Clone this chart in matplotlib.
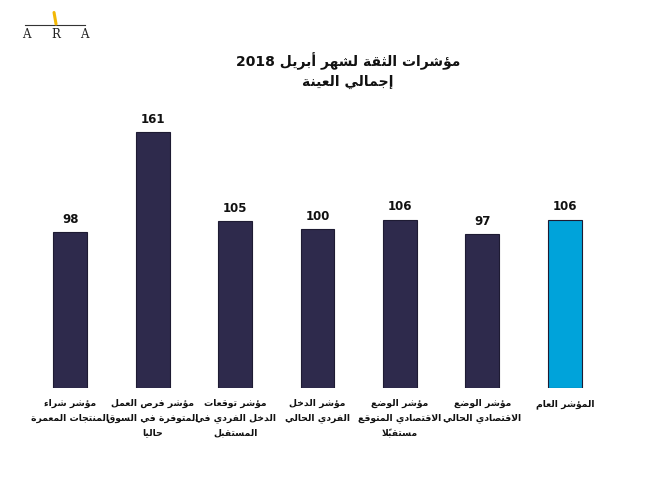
import matplotlib
matplotlib.use("Agg")
import matplotlib.pyplot as plt
from matplotlib.lines import Line2D

# chart data (logical order, right-to-left reading)
LABELS = [
    "مؤشر شراء\nالمنتجات المعمرة",
    "مؤشر فرص العمل\nالمتوفرة في السوق\nحاليا",
    "مؤشر توقعات\nالدخل الفردي في\nالمستقبل",
    "مؤشر الدخل\nالفردي الحالي",
    "مؤشر الوضع\nالاقتصادي المتوقع\nمستقبلاً",
    "مؤشر الوضع\nالاقتصادي الحالي",
    "المؤشر العام",
]
VALUES = [98, 161, 105, 100, 106, 97, 106]
TITLE = "مؤشرات الثقة لشهر أبريل 2018\nإجمالي العينة"

DARK = "#2e2a4c"
BLUE = "#00a3da"
COLORS = [DARK] * 6 + [BLUE]

# --- tiny arabic shaper (matplotlib has no complex text layout) ---
_counts = [1, 2, 2, 2, 2, 4, 2, 4, 2, 4, 4, 4, 4, 4, 2, 2, 2, 2, 4, 4, 4, 4, 4, 4, 4, 4,
           4, 4, 4, 4, 4, 4, 4, 2, 2, 4]
_letters = [chr(c) for c in range(0x621, 0x63B)] + [chr(c) for c in range(0x641, 0x64B)]
FORMS = {}
_b = 0xFE80
for ch, n in zip(_letters, _counts):
    FORMS[ch] = (_b, n)
    _b += n
LAMALEF = {"آ": 0xFEF5, "أ": 0xFEF7, "إ": 0xFEF9, "ا": 0xFEFB}


def is_mark(c):
    return 0x64B <= ord(c) <= 0x65F or c == "\u0670"


def shape_line(s):
    # split into clusters [base, marks]
    cl = []
    for c in s:
        if is_mark(c) and cl:
            cl[-1][1] += c
        else:
            cl.append([c, ""])
    # lam-alef ligature
    items = []
    i = 0
    while i < len(cl):
        c, m = cl[i]
        if c == "ل" and i + 1 < len(cl) and cl[i + 1][0] in LAMALEF:
            items.append(["LA", cl[i + 1][0], m + cl[i + 1][1]])
            i += 2
        else:
            items.append(["CH", c, m])
            i += 1

    def nforms(it):
        if it[0] == "LA":
            return 2
        return FORMS[it[1]][1] if it[1] in FORMS else 0

    out = []
    for k, it in enumerate(items):
        n = nforms(it)
        if n == 0:
            out.append(it[1] + it[2])
            continue
        prev_ok = k > 0 and nforms(items[k - 1]) == 4
        next_ok = n == 4 and k + 1 < len(items) and nforms(items[k + 1]) >= 2
        if it[0] == "LA":
            g = chr(LAMALEF[it[1]] + (1 if prev_ok else 0))
        else:
            base = FORMS[it[1]][0]
            if n == 1:
                g = chr(base)
            elif prev_ok and next_ok:
                g = chr(base + 3)
            elif prev_ok:
                g = chr(base + 1)
            elif next_ok:
                g = chr(base + 2)
            else:
                g = chr(base)
        out.append(g + it[2])
    # visual order: reverse, keep digit runs left-to-right
    out = out[::-1]
    res = []
    run = []
    for g in out:
        if g.isdigit():
            run.append(g)
        else:
            res += run[::-1]
            run = []
            res.append(g)
    res += run[::-1]
    return "".join(res)


def ar(s):
    return "\n".join(shape_line(line) for line in s.split("\n"))


plt.rcParams["font.family"] = ["DejaVu Sans"]

fig = plt.figure(figsize=(6.67, 5.0), dpi=100)
ax = fig.add_axes([0.0435, 0.224, 0.865, 0.572])

x = list(range(len(VALUES)))
bars = ax.bar(x, VALUES, width=0.41, color=COLORS, edgecolor="#1e1b33", linewidth=0.8)
for xi, v in zip(x, VALUES):
    ax.text(xi, v + 4, str(v), ha="center", va="bottom", fontsize=8.5,
            fontweight="bold", color="#111111")

ax.set_xlim(-0.5, 6.5)
ax.set_ylim(0, 180)
ax.set_yticks([])
ax.set_xticks(x)
ax.set_xticklabels([ar(l) for l in LABELS], fontsize=6.7, fontweight="bold",
                   linespacing=1.75, color="#111111")
ax.tick_params(axis="x", length=0, pad=8)
for sp in ax.spines.values():
    sp.set_visible(False)

fig.text(0.522, 0.858, ar(TITLE), ha="center", va="center", fontsize=10,
         fontweight="bold", linespacing=1.45, color="#111111")

# ARA logo
fig.add_artist(Line2D([0.037, 0.128], [0.95, 0.95], color="#333333", lw=0.8))
fig.add_artist(Line2D([0.084, 0.081], [0.952, 0.975], color="#f2b705", lw=2.2,
                      solid_capstyle="round"))
for lx, lt in zip([0.039, 0.083, 0.127], "ARA"):
    fig.text(lx, 0.932, lt, ha="center", va="center", fontsize=8.5,
             family="DejaVu Serif", color="#222222")

fig.savefig("out.png", dpi=100)
